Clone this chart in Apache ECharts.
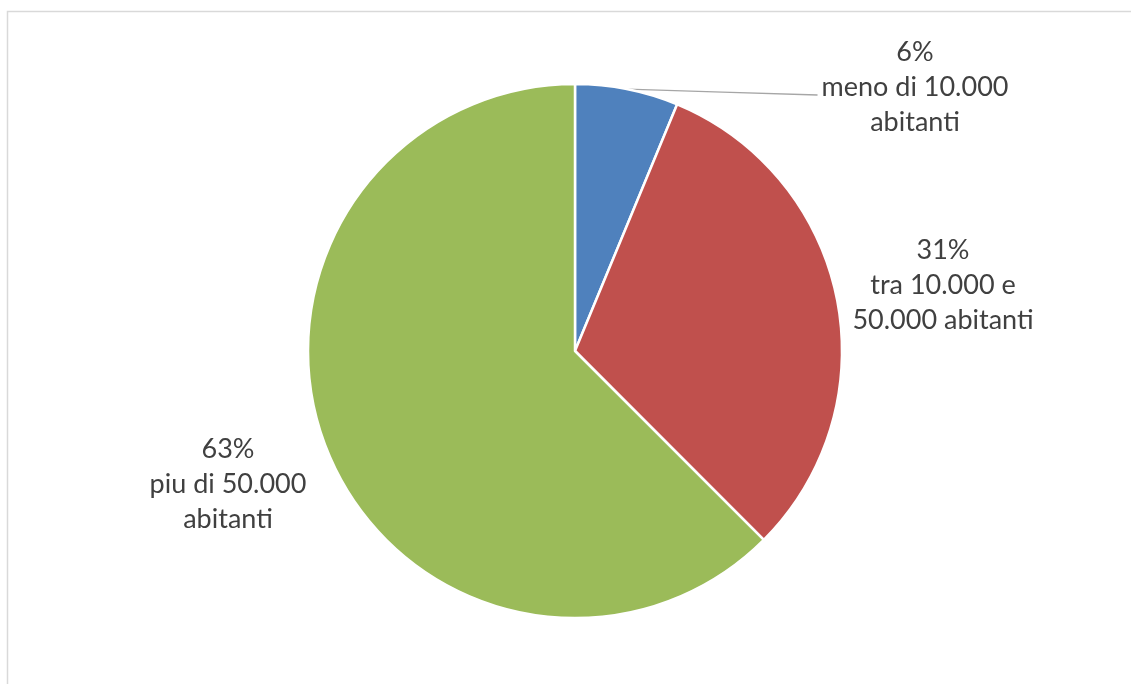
<!DOCTYPE html>
<html>
<head>
<meta charset="utf-8">
<script src="https://cdn.jsdelivr.net/npm/echarts@6/dist/echarts.min.js"></script>
<style>
html,body{margin:0;padding:0;background:#fff;}
#chart{width:1131px;height:684px;}
</style>
</head>
<body>
<div id="chart"></div>
<script>
const categories = ['meno di 10.000\nabitanti', 'tra 10.000 e\n50.000 abitanti', 'piu di 50.000\nabitanti'];
const values = [6.25, 31.25, 62.5];
const colors = ['#4f81bd', '#c0504d', '#9bbb59'];

// label block centres (layout)
const labelPos = [[915, 87], [943, 285], [228, 484]];

const chart = echarts.init(document.getElementById('chart'), null, {renderer: 'canvas'});
chart.setOption({
  backgroundColor: '#ffffff',
  animation: false,
  graphic: [{
    type: 'rect',
    shape: {x: 7.5, y: 11.5, width: 3000, height: 3000},
    style: {fill: 'none', stroke: '#d9d9d9', lineWidth: 1.5},
    silent: true
  }],
  series: [{
    type: 'pie',
    center: [575, 351],
    radius: 267,
    startAngle: 90,
    clockwise: true,
    itemStyle: {borderColor: '#ffffff', borderWidth: 2.5},
    label: {
      show: true,
      position: 'outside',
      formatter: p => Math.round(p.percent) + '%\n' + p.name,
      fontFamily: 'Lato',
      fontSize: 27,
      lineHeight: 35,
      color: '#404040',
      align: 'center'
    },
    labelLine: {show: true, lineStyle: {color: '#a6a6a6', width: 1.3}},
    labelLayout: function (params) {
      const i = params.dataIndex;
      const pos = labelPos[i];
      const out = {x: pos[0], y: pos[1], align: 'center', verticalAlign: 'middle'};
      if (i === 0 && params.labelLinePoints) {
        const start = params.labelLinePoints[0];
        const endX = pos[0] - params.labelRect.width / 2 - 4;
        const endY = pos[1] + 8;
        out.labelLinePoints = [start, [(start[0] + endX) / 2, (start[1] + endY) / 2], [endX, endY]];
      }
      return out;
    },
    data: categories.map((c, i) => ({
      name: c,
      value: values[i],
      itemStyle: {color: colors[i]},
      labelLine: {show: i === 0}
    }))
  }]
});
</script>
</body>
</html>
